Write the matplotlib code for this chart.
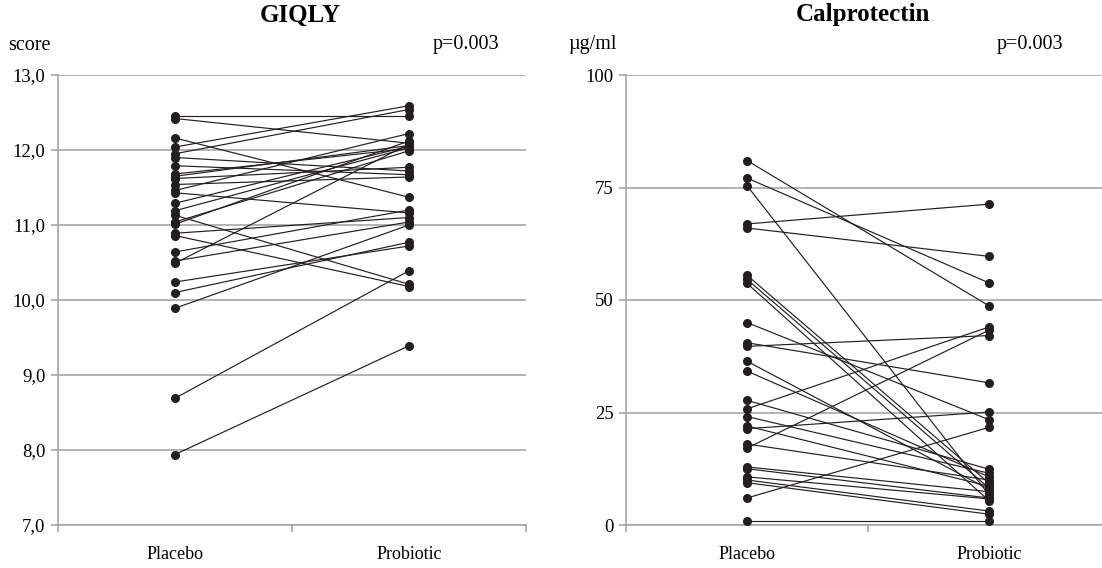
import matplotlib.pyplot as plt
from matplotlib.ticker import FuncFormatter, FixedLocator

groups = ["Placebo", "Probiotic"]

# GIQLY score, one pair per patient
giqly_placebo = [12.45, 12.42, 12.16, 12.04, 11.95, 11.90, 11.79, 11.68, 11.65, 11.62,
                 11.54, 11.46, 11.43, 11.29, 11.19, 11.13, 11.04, 11.01, 10.89, 10.86,
                 10.64, 10.52, 10.49, 10.24, 10.10, 9.89, 8.69, 7.94]
giqly_probiotic = [12.45, 12.09, 11.37, 12.59, 12.54, 11.72, 11.67, 12.02, 12.06, 11.77,
                   11.64, 12.22, 11.16, 12.05, 12.03, 10.21, 11.99, 12.12, 11.10, 10.18,
                   11.20, 11.04, 12.08, 10.72, 10.77, 11.00, 10.39, 9.39]

# Calprotectin, ug/ml
calp_placebo = [81.0, 77.1, 75.4, 66.9, 66.0, 55.5, 54.6, 53.7, 45.0, 40.5,
                39.7, 36.4, 34.2, 27.7, 25.8, 24.1, 22.0, 21.4, 18.0, 17.1,
                12.9, 12.5, 10.7, 10.0, 9.4, 6.0, 1.0]
calp_probiotic = [48.7, 53.8, 6.7, 71.3, 59.7, 9.3, 8.2, 5.4, 23.4, 31.6,
                  42.1, 7.9, 10.7, 12.4, 44.0, 11.5, 8.6, 25.1, 10.0, 43.3,
                  7.4, 6.0, 5.8, 3.1, 2.4, 21.7, 1.0]

plt.rcParams['font.family'] = ['Liberation Serif', 'DejaVu Serif']

GRID = '#a6a6a6'
INK = '#231f20'


def draw_panel(ax, before, after, ymin, ymax, ystep, fmt):
    for a, b in zip(before, after):
        ax.plot([0.5, 1.5], [a, b], color=INK, lw=0.85, marker='o',
                markersize=5.5, markerfacecolor=INK, markeredgecolor=INK,
                clip_on=False, zorder=3)
    ax.set_xlim(0, 2)
    ax.set_ylim(ymin, ymax)
    ticks = []
    v = ymin
    while v <= ymax + 1e-9:
        ticks.append(v)
        v += ystep
    ax.set_yticks(ticks)
    ax.yaxis.set_major_formatter(FuncFormatter(fmt))
    ax.yaxis.grid(True, color=GRID, lw=1.2)
    ax.set_axisbelow(True)
    ax.xaxis.set_major_locator(FixedLocator([0, 1, 2]))
    ax.xaxis.set_minor_locator(FixedLocator([0.5, 1.5]))
    ax.set_xticklabels([])
    ax.set_xticklabels(groups, minor=True)
    ax.tick_params(axis='x', which='major', length=5, color=GRID, width=1.2)
    ax.tick_params(axis='x', which='minor', length=0, pad=15, labelsize=13)
    ax.tick_params(axis='y', length=5, color=GRID, width=1.2, labelsize=13.5, pad=4)
    for s in ['top', 'right']:
        ax.spines[s].set_visible(False)
    for s in ['left', 'bottom']:
        ax.spines[s].set_color(GRID)
        ax.spines[s].set_linewidth(1.2)


fig = plt.figure(figsize=(11.02, 5.68), dpi=100)
W, H = 1102, 568
ax1 = fig.add_axes([58 / W, 1 - 525 / H, 468 / W, 450 / H])
ax2 = fig.add_axes([626 / W, 1 - 525 / H, 484 / W, 450 / H])

draw_panel(ax1, giqly_placebo, giqly_probiotic, 7.0, 13.0, 1.0,
           lambda v, p: f"{v:.1f}".replace('.', ','))
draw_panel(ax2, calp_placebo, calp_probiotic, 0, 100, 25,
           lambda v, p: f"{v:.0f}")

fig.text(300 / W, 1 - 15 / H, "GIQLY", ha='center', va='center', fontsize=18, fontweight='bold')
fig.text(863 / W, 1 - 15 / H, "Calprotectin", ha='center', va='center', fontsize=18, fontweight='bold')
fig.text(8 / W, 1 - 45 / H, "score", ha='left', va='center', fontsize=14.5)
fig.text(568 / W, 1 - 45 / H, "µg/ml", ha='left', va='center', fontsize=14.5)
fig.text(466 / W, 1 - 45 / H, "p=0.003", ha='center', va='center', fontsize=14.5)
fig.text(1030 / W, 1 - 45 / H, "p=0.003", ha='center', va='center', fontsize=14.5)

fig.savefig("out.png", dpi=100)
